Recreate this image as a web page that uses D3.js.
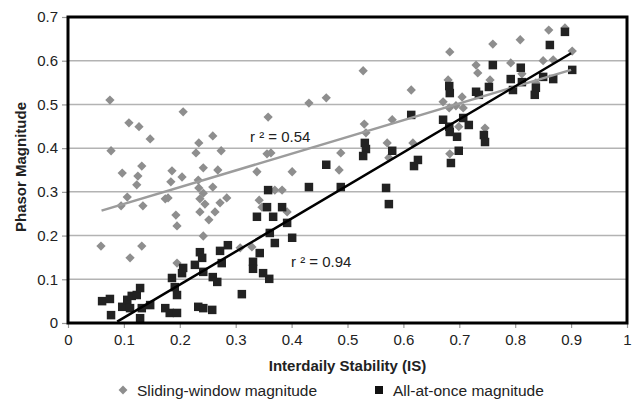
<!DOCTYPE html>
<html><head><meta charset="utf-8">
<script src="https://cdn.jsdelivr.net/npm/d3@7"></script>
<style>
html,body{margin:0;padding:0;background:#fff;}
svg{display:block;font-family:"Liberation Sans",Arial,sans-serif;}
</style></head>
<body>
<svg id="chart" width="635" height="400"></svg>
<script>
// Sliding-window magnitude (grey diamonds): [IS, magnitude]
const slidingX = [0.059,0.075,0.077,0.109,0.127,0.147,0.097,0.132,0.125,0.123,0.106,0.095,0.134,0.186,0.184,0.204,0.206,0.174,0.179,0.193,0.195,0.234,0.229,0.259,0.274,0.242,0.268,0.233,0.234,0.242,0.259,0.236,0.245,0.284,0.272,0.263,0.236,0.252,0.242,0.111,0.132,0.195,0.308,0.329,0.338,0.342,0.358,0.431,0.462,0.614,0.530,0.533,0.580,0.571,0.617,0.356,0.363,0.401,0.488,0.485,0.574,0.370,0.383,0.392,0.347,0.528,0.683,0.730,0.733,0.760,0.809,0.860,0.889,0.902,0.850,0.868,0.792,0.755,0.680,0.812,0.837,0.671,0.682,0.705,0.707,0.694,0.699,0.746,0.683];
const slidingY = [0.176,0.510,0.394,0.458,0.449,0.421,0.343,0.359,0.336,0.316,0.288,0.268,0.268,0.348,0.323,0.334,0.483,0.284,0.286,0.247,0.222,0.412,0.389,0.428,0.394,0.355,0.350,0.327,0.309,0.297,0.311,0.284,0.272,0.286,0.275,0.254,0.254,0.236,0.199,0.149,0.176,0.137,0.172,0.174,0.346,0.281,0.471,0.503,0.515,0.533,0.455,0.435,0.465,0.412,0.412,0.387,0.389,0.346,0.389,0.350,0.378,0.304,0.304,0.254,0.265,0.577,0.620,0.590,0.572,0.638,0.648,0.670,0.675,0.622,0.600,0.602,0.595,0.556,0.556,0.570,0.549,0.506,0.492,0.517,0.492,0.497,0.449,0.446,0.387];
// All-at-once magnitude (black squares)
const allAtOnceX = [0.061,0.075,0.077,0.097,0.106,0.114,0.123,0.129,0.111,0.129,0.132,0.147,0.174,0.182,0.195,0.186,0.191,0.195,0.206,0.204,0.227,0.236,0.240,0.242,0.259,0.267,0.275,0.272,0.286,0.311,0.233,0.242,0.258,0.331,0.331,0.338,0.343,0.358,0.356,0.367,0.383,0.431,0.462,0.488,0.531,0.533,0.528,0.580,0.569,0.574,0.614,0.619,0.626,0.392,0.361,0.370,0.401,0.349,0.360,0.889,0.862,0.902,0.868,0.850,0.837,0.835,0.810,0.812,0.796,0.792,0.760,0.753,0.730,0.735,0.682,0.683,0.671,0.682,0.707,0.717,0.683,0.696,0.744,0.746,0.699,0.685];
const allAtOnceY = [0.050,0.055,0.018,0.037,0.053,0.062,0.064,0.080,0.034,0.011,0.034,0.041,0.034,0.023,0.023,0.103,0.082,0.064,0.126,0.114,0.133,0.162,0.149,0.117,0.105,0.094,0.137,0.165,0.178,0.066,0.037,0.034,0.030,0.140,0.124,0.243,0.160,0.304,0.265,0.243,0.265,0.311,0.362,0.311,0.412,0.398,0.382,0.394,0.309,0.272,0.476,0.359,0.373,0.229,0.206,0.183,0.195,0.114,0.101,0.666,0.636,0.579,0.558,0.563,0.538,0.522,0.584,0.551,0.533,0.558,0.590,0.540,0.529,0.522,0.542,0.526,0.465,0.449,0.469,0.453,0.437,0.426,0.430,0.414,0.394,0.366];
// Trend lines (endpoints)
const slidingFitX = [0.060,0.900];
const slidingFitY = [0.257,0.579];
const allFitX = [0.088,0.900];
const allFitY = [0.003,0.617];
const xTicks = [0,0.1,0.2,0.3,0.4,0.5,0.6,0.7,0.8,0.9,1];
const yTicks = [0,0.1,0.2,0.3,0.4,0.5,0.6,0.7];
const labels = {x:"Interdaily Stability (IS)", y:"Phasor Magnitude", s:"Sliding-window magnitude", a:"All-at-once magnitude", r1:"r ² = 0.54", r2:"r ² = 0.94"};

const svg = d3.select("#chart");
const L=68, R=627, T=17, B=323;
const x = d3.scaleLinear().domain([0,1]).range([L,R]);
const y = d3.scaleLinear().domain([0,0.7]).range([B,T]);
const fmt = d => d===0||d===1 ? String(d) : d.toFixed(1);

// gridlines
svg.append("g").selectAll("line").data(yTicks.filter(d=>d>0&&d<0.7)).join("line")
  .attr("x1",L).attr("x2",R).attr("y1",d=>y(d)).attr("y2",d=>y(d))
  .attr("stroke","#b3b3b3").attr("stroke-width",1.5);

// axes
const xa = svg.append("g").attr("transform",`translate(0,${B})`)
  .call(d3.axisBottom(x).tickValues(xTicks).tickFormat(fmt).tickSize(5).tickPadding(6));
const ya = svg.append("g").attr("transform",`translate(${L},0)`)
  .call(d3.axisLeft(y).tickValues(yTicks).tickFormat(fmt).tickSize(6).tickPadding(4));
[xa,ya].forEach(g=>{
  g.select(".domain").remove();
  g.selectAll("line").attr("stroke","#999").attr("stroke-width",1.2);
  g.selectAll("text").attr("font-size",15).attr("fill","#222").attr("font-family","Liberation Sans, Arial, sans-serif");
});

// diamonds
const diamond = d3.symbol().type(d3.symbolDiamond2).size(55);
svg.append("g").selectAll("path").data(d3.range(slidingX.length)).join("path")
  .attr("d",diamond).attr("transform",i=>`translate(${x(slidingX[i])},${y(slidingY[i])})`)
  .attr("fill","#8e8e8e");
// squares
svg.append("g").selectAll("rect").data(d3.range(allAtOnceX.length)).join("rect")
  .attr("x",i=>x(allAtOnceX[i])-4.25).attr("y",i=>y(allAtOnceY[i])-4.25)
  .attr("width",8.5).attr("height",8.5).attr("fill","#222");

// trend lines
const line = d3.line().x(d=>x(d[0])).y(d=>y(d[1]));
svg.append("path").datum(slidingFitX.map((v,i)=>[v,slidingFitY[i]])).attr("d",line)
  .attr("fill","none").attr("stroke","#9c9c9c").attr("stroke-width",2.5);
svg.append("path").datum(allFitX.map((v,i)=>[v,allFitY[i]])).attr("d",line)
  .attr("fill","none").attr("stroke","#000").attr("stroke-width",2.5);

// frame
svg.append("rect").attr("x",L).attr("y",T).attr("width",R-L).attr("height",B-T)
  .attr("fill","none").attr("stroke","#000").attr("stroke-width",3);

// r2 labels
svg.append("text").attr("x",250).attr("y",141.5).attr("font-size",15).attr("fill","#222").text(labels.r1);
svg.append("text").attr("x",291).attr("y",266.5).attr("font-size",15).attr("fill","#222").text(labels.r2);

// axis titles
svg.append("text").attr("x",(L+R)/2).attr("y",371).attr("text-anchor","middle")
  .attr("font-size",15).attr("font-weight","bold").attr("fill","#222").text(labels.x);
svg.append("text").attr("transform","translate(26,167) rotate(-90)").attr("text-anchor","middle")
  .attr("font-size",15).attr("font-weight","bold").attr("fill","#222").text(labels.y);

// legend
svg.append("path").attr("d",d3.symbol().type(d3.symbolDiamond2).size(50)).attr("transform","translate(123,390)").attr("fill","#8e8e8e");
svg.append("text").attr("x",137).attr("y",395.5).attr("font-size",15.5).attr("fill","#222").text(labels.s);
svg.append("rect").attr("x",375).attr("y",386).attr("width",8).attr("height",8).attr("fill","#111");
svg.append("text").attr("x",393).attr("y",395.5).attr("font-size",15.5).attr("fill","#222").text(labels.a);
</script>
</body></html>
